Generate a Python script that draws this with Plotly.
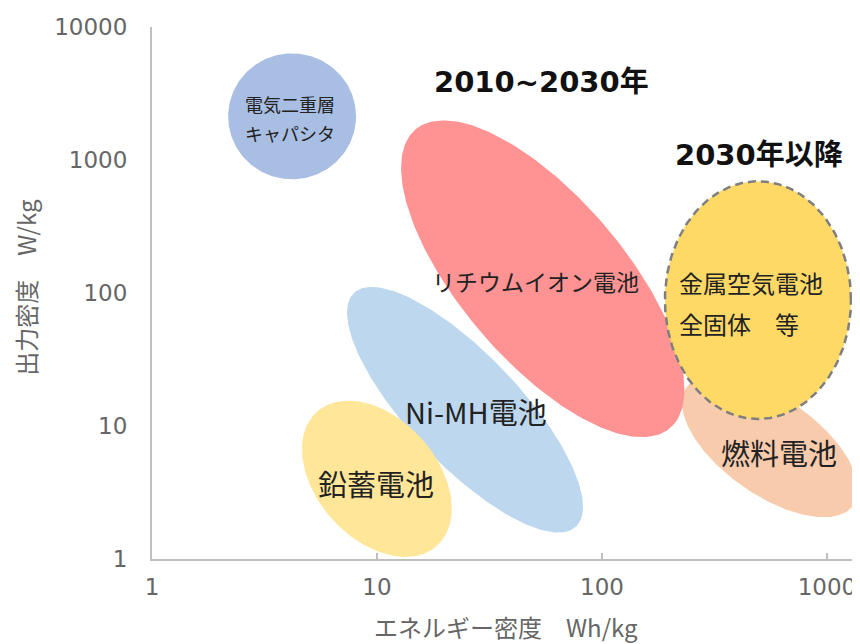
import numpy as np
import plotly.graph_objects as go

# ---- data: energy density (Wh/kg) and power density (W/kg) regions ----
techs = ["電気二重層キャパシタ", "Ni-MH電池", "鉛蓄電池", "燃料電池", "リチウムイオン電池", "金属空気電池・全固体"]
energy_min = [2.18, 7.36, 4.64, 226.8, 12.8, 190.5]
energy_max = [8.07, 82.4, 21.5, 1374, 232.6, 1279]
power_min = [716, 1.58, 1.036, 2.06, 8.24, 11.3]
power_max = [6335, 111, 15.5, 24.1, 1986, 691.6]
tilt_corr = [0.0, -0.79, -0.38, -0.61, -0.70, 0.0]

# labels (text, energy, power)
label_text = ["電気二重層", "キャパシタ", "Ni-MH電池", "鉛蓄電池", "燃料電池", "リチウムイオン電池",
              "金属空気電池", "全固体　等"]
label_energy = [4.10, 4.10, 27.5, 9.9, 612, 50.9, 215.4, 215.4]
label_power = [2620, 1600, 13.0, 3.74, 6.33, 123.5, 119, 59.0]

period_text = ["2010~2030年", "2030年以降"]
period_energy = [53.6, 498.8]
period_power = [3872, 1092]

x_tickvals = [1, 10, 100, 1000]
y_tickvals = [1, 10, 100, 1000, 10000]

# ---- styles ----
fills = ["#A8BEE2", "#BDD7EE", "#FFE699", "#F8CBAD", "#FF9393", "#FFD966"]
borders = [None, None, None, None, None, "#7F7F7F"]
label_sizes = [18, 18, 29, 29, 29, 23, 24, 24]
label_anchor = ["center", "center", "center", "center", "center", "center", "left", "left"]
CJK = "Noto Sans CJK JP"

fig = go.Figure()
t = np.linspace(0, 2 * np.pi, 241)
for i in range(len(techs)):
    lx0, lx1 = np.log10(energy_min[i]), np.log10(energy_max[i])
    ly0, ly1 = np.log10(power_min[i]), np.log10(power_max[i])
    cx, hx = (lx0 + lx1) / 2, (lx1 - lx0) / 2
    cy, hy = (ly0 + ly1) / 2, (ly1 - ly0) / 2
    r = tilt_corr[i]
    u = cx + hx * np.cos(t)
    v = cy + hy * (r * np.cos(t) + np.sqrt(1 - r * r) * np.sin(t))
    if borders[i]:
        line = dict(color=borders[i], width=2.5, dash="8px,5px")
    else:
        line = dict(width=0, color=fills[i])
    fig.add_trace(go.Scatter(x=10 ** u, y=10 ** v, mode="lines", fill="toself",
                             fillcolor=fills[i], line=line, name=techs[i],
                             hoverinfo="name", showlegend=False))

annotations = []
for txt, e, p, s, a in zip(label_text, label_energy, label_power, label_sizes, label_anchor):
    annotations.append(dict(x=np.log10(e), y=np.log10(p), xref="x", yref="y", text=txt,
                            showarrow=False, xanchor=a, yanchor="middle",
                            font=dict(family=CJK, size=s, color="#222222")))
for txt, e, p in zip(period_text, period_energy, period_power):
    annotations.append(dict(x=np.log10(e), y=np.log10(p), xref="x", yref="y",
                            text="<b>" + txt + "</b>", showarrow=False,
                            xanchor="center", yanchor="middle",
                            font=dict(family="DejaVu Sans, " + CJK, size=29, color="#111111")))
# axis titles
annotations.append(dict(x=0.5, y=-0.126, xref="paper", yref="paper", text="エネルギー密度　Wh/kg",
                        showarrow=False, xanchor="center", yanchor="middle",
                        font=dict(family=CJK, size=24, color="#666666")))
annotations.append(dict(x=0, y=0.51, xref="paper", yref="paper", text="出力密度　W/kg",
                        showarrow=False, xanchor="center", yanchor="middle", xshift=-126,
                        textangle=-90, font=dict(family=CJK, size=24, color="#666666")))

# page body has an 8px margin, so the figure is 8px smaller and the margins shifted
fig.update_layout(
    width=852, height=636,
    margin=dict(l=144, r=0, t=19, b=85),
    paper_bgcolor="white", plot_bgcolor="white",
    annotations=annotations,
    xaxis=dict(type="log", range=[0, 3.147], tickvals=x_tickvals,
               ticktext=[str(v) for v in x_tickvals], showgrid=False, zeroline=False,
               showline=True, linecolor="#BFBFBF", linewidth=2,
               ticks="inside", ticklen=6, tickwidth=1.5, tickcolor="#BFBFBF",
               ticklabelstandoff=6, automargin=False,
               tickfont=dict(family="DejaVu Sans", size=23, color="#666666")),
    yaxis=dict(type="log", range=[0, 4], tickvals=y_tickvals,
               ticktext=[str(v) for v in y_tickvals], showgrid=False, zeroline=False,
               showline=True, linecolor="#BFBFBF", linewidth=2, ticks="",
               ticklabelstandoff=18, automargin=False,
               tickfont=dict(family="DejaVu Sans", size=23, color="#666666")),
)

fig.write_html("out.html")
